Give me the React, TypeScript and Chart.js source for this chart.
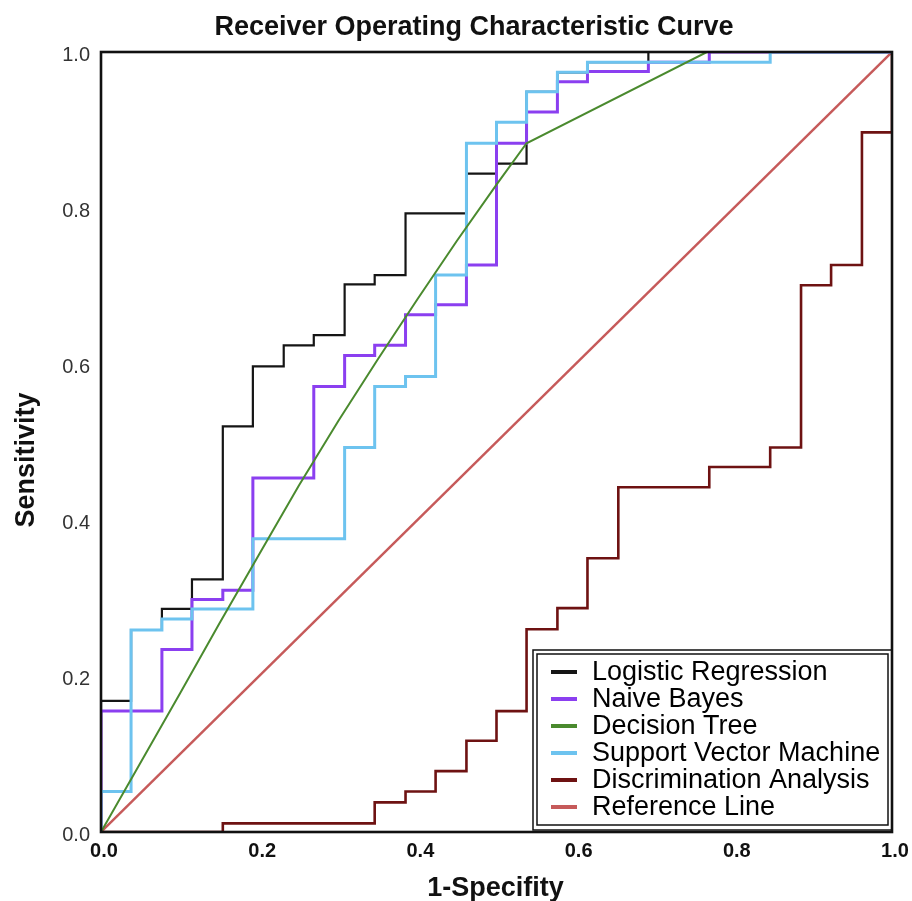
import React, { useEffect, useRef } from "react";
import { Chart, registerables } from "chart.js";

Chart.register(...registerables);

// ---------- text ----------
const CHART_TITLE = "Receiver Operating Characteristic Curve";
const X_TITLE = "1-Specifity";
const Y_TITLE = "Sensitivity";
const SERIES_NAMES = [
  "Logistic Regression",
  "Naive Bayes",
  "Decision Tree",
  "Support Vector Machine",
  "Discrimination Analysis",
  "Reference Line",
];
const TICK_STEP = 0.2;

// ---------- data (ROC corner points: 1-specificity, sensitivity) ----------
const lrFpr = [0, 0, 0.038, 0.077, 0.115, 0.154, 0.192, 0.231, 0.269, 0.308, 0.346, 0.385, 0.462, 0.5, 0.538, 0.577, 0.615, 0.692, 1];
const lrTpr = [0, 0.168, 0.259, 0.286, 0.324, 0.52, 0.597, 0.624, 0.637, 0.702, 0.714, 0.793, 0.844, 0.857, 0.949, 0.974, 0.987, 1, 1];

const nbFpr = [0, 0, 0.077, 0.115, 0.154, 0.192, 0.269, 0.308, 0.346, 0.385, 0.423, 0.462, 0.5, 0.538, 0.577, 0.615, 0.692, 0.769, 1];
const nbTpr = [0, 0.155, 0.234, 0.298, 0.31, 0.454, 0.571, 0.611, 0.624, 0.663, 0.676, 0.727, 0.883, 0.923, 0.962, 0.975, 0.987, 1, 1];

const dtFpr = [0, 0.1, 0.15, 0.2, 0.25, 0.3, 0.35, 0.4, 0.45, 0.5, 0.538, 0.766, 1];
const dtTpr = [0, 0.178, 0.268, 0.356, 0.444, 0.527, 0.606, 0.683, 0.758, 0.83, 0.883, 1, 1];

const svmFpr = [0, 0, 0.038, 0.077, 0.115, 0.192, 0.308, 0.346, 0.385, 0.423, 0.462, 0.5, 0.538, 0.577, 0.615, 0.846, 1];
const svmTpr = [0, 0.052, 0.259, 0.273, 0.286, 0.376, 0.493, 0.571, 0.584, 0.714, 0.883, 0.91, 0.949, 0.974, 0.987, 1, 1];

const daFpr = [0, 0.154, 0.346, 0.385, 0.423, 0.462, 0.5, 0.538, 0.577, 0.615, 0.654, 0.769, 0.846, 0.885, 0.923, 0.962, 1];
const daTpr = [0, 0.011, 0.038, 0.052, 0.078, 0.117, 0.155, 0.26, 0.287, 0.351, 0.442, 0.468, 0.493, 0.701, 0.727, 0.897, 1];

const refFpr = [0, 1];
const refTpr = [0, 1];

// ---------- styles ----------
const COLORS = ["#151515", "#8b3ff0", "#4a8a2e", "#6dc3ef", "#6e1212", "#c65a5a"];
const WIDTHS = [2.2, 3, 2, 3, 2.6, 2.4];
const DRAW_ORDER = [3, 2, 0, 1, 4, 5];
const FONT = '"Liberation Sans", Arial, Helvetica, sans-serif';

function staircase(fpr: number[], tpr: number[]) {
  const pts: { x: number; y: number }[] = [{ x: fpr[0], y: tpr[0] }];
  for (let i = 1; i < fpr.length; i++) {
    pts.push({ x: fpr[i], y: tpr[i - 1] });
    pts.push({ x: fpr[i], y: tpr[i] });
  }
  return pts;
}
function polyline(fpr: number[], tpr: number[]) {
  return fpr.map((x, i) => ({ x, y: tpr[i] }));
}

const overlayPlugin = {
  id: "rocOverlay",
  afterDatasetsDraw(chart: any) {
    const { ctx, chartArea: ca } = chart;
    ctx.save();
    // legend box (inside plot, bottom-right)
    const oL = ca.right - 359;
    const oT = ca.bottom - 182;
    const oR = ca.right;
    const oB = ca.bottom - 2;
    ctx.fillStyle = "#ffffff";
    ctx.fillRect(oL, oT, oR - oL, oB - oT);
    ctx.strokeStyle = "#111111";
    ctx.lineWidth = 1.5;
    ctx.strokeRect(oL, oT, oR - oL, oB - oT);
    ctx.strokeRect(oL + 4, oT + 4, oR - oL - 8, oB - oT - 9);
    const ds = chart.data.datasets;
    ctx.font = `27px ${FONT}`;
    ctx.textAlign = "left";
    ctx.textBaseline = "middle";
    for (let i = 0; i < ds.length; i++) {
      const y = oT + 22 + i * 27;
      ctx.strokeStyle = ds[i].borderColor;
      ctx.lineWidth = 4;
      ctx.beginPath();
      ctx.moveTo(oL + 18, y);
      ctx.lineTo(oL + 44, y);
      ctx.stroke();
      ctx.fillStyle = "#000000";
      ctx.fillText(ds[i].label, oL + 59, y + 1);
    }
    // plot frame
    ctx.strokeStyle = "#111111";
    ctx.lineWidth = 2.6;
    ctx.strokeRect(ca.left, ca.top, ca.right - ca.left, ca.bottom - ca.top);
    ctx.restore();
  },
  afterDraw(chart: any) {
    const { ctx, chartArea: ca } = chart;
    ctx.save();
    ctx.fillStyle = "#111111";
    ctx.font = `bold 27px ${FONT}`;
    ctx.textBaseline = "alphabetic";
    ctx.textAlign = "center";
    ctx.fillText(CHART_TITLE, 474, 35);
    ctx.fillText(X_TITLE, (ca.left + ca.right) / 2 - 1, 896);
    ctx.translate(34, (ca.top + ca.bottom) / 2 + 18);
    ctx.rotate(-Math.PI / 2);
    ctx.fillText(Y_TITLE, 0, 0);
    ctx.restore();
  },
};

export default function App() {
  const ref = useRef<HTMLCanvasElement | null>(null);

  useEffect(() => {
    if (!ref.current) return;
    const series = [
      staircase(lrFpr, lrTpr),
      staircase(nbFpr, nbTpr),
      polyline(dtFpr, dtTpr),
      staircase(svmFpr, svmTpr),
      staircase(daFpr, daTpr),
      polyline(refFpr, refTpr),
    ];
    const chart = new Chart(ref.current, {
      type: "line",
      data: {
        datasets: series.map((data, i) => ({
          label: SERIES_NAMES[i],
          data,
          borderColor: COLORS[i],
          backgroundColor: COLORS[i],
          borderWidth: WIDTHS[i],
          pointRadius: 0,
          pointHoverRadius: 0,
          tension: 0,
          fill: false,
          order: DRAW_ORDER[i],
          borderJoinStyle: "miter",
        })),
      },
      options: {
        responsive: false,
        animation: false,
        devicePixelRatio: 1,
        events: [],
        layout: { padding: { top: 52, right: 20, bottom: 0, left: 0 } },
        plugins: {
          legend: { display: false },
          tooltip: { enabled: false },
          title: { display: false },
        },
        scales: {
          x: {
            type: "linear",
            min: 0,
            max: 1,
            grid: { display: false, drawTicks: false },
            border: { display: false },
            ticks: {
              stepSize: TICK_STEP,
              autoSkip: false,
              maxRotation: 0,
              padding: 7,
              labelOffset: 3,
              color: "#111111",
              font: { family: FONT, size: 20, weight: "bold" },
              callback: (v: any) => Number(v).toFixed(1),
            },
            afterFit: (s: any) => {
              s.height = 69;
              s.paddingLeft = 0;
              s.paddingRight = 0;
            },
          },
          y: {
            type: "linear",
            min: 0,
            max: 1,
            grid: { display: false, drawTicks: false },
            border: { display: false },
            ticks: {
              stepSize: TICK_STEP,
              autoSkip: false,
              padding: 11,
              labelOffset: 3,
              color: "#333333",
              font: { family: FONT, size: 20 },
              callback: (v: any) => Number(v).toFixed(1),
            },
            afterFit: (s: any) => {
              s.width = 101;
              s.paddingTop = 0;
              s.paddingBottom = 0;
            },
          },
        },
      },
      plugins: [overlayPlugin],
    } as any);
    return () => chart.destroy();
  }, []);

  return (
    <div style={{ position: "absolute", left: 0, top: 0, width: 912, height: 901, background: "#ffffff" }}>
      <canvas ref={ref} width={912} height={901} style={{ display: "block" }} />
    </div>
  );
}
